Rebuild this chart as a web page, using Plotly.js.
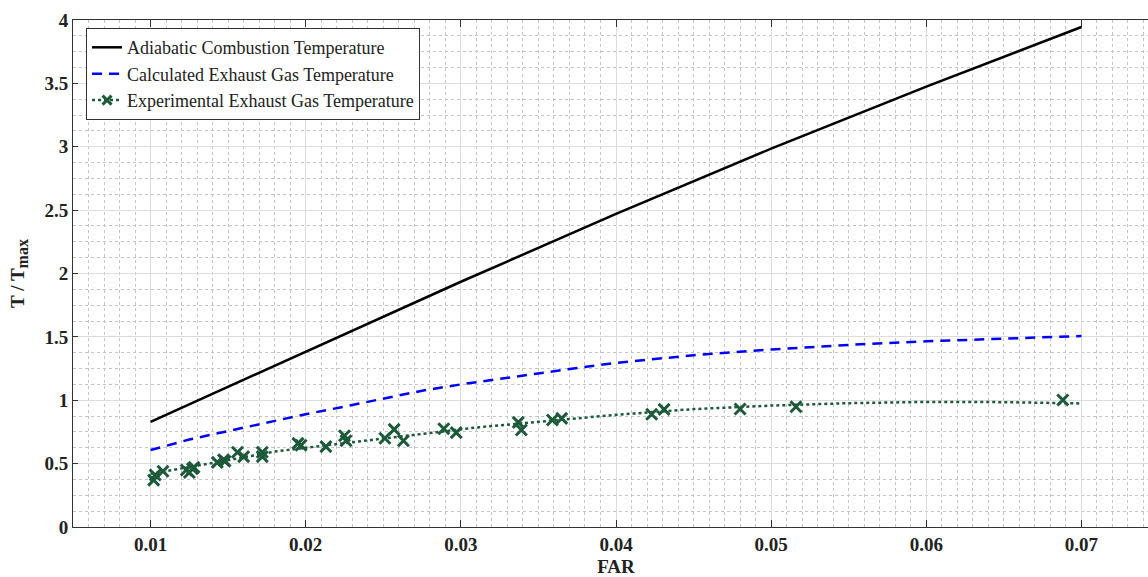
<!DOCTYPE html>
<html>
<head>
<meta charset="utf-8">
<script src="https://cdn.plot.ly/plotly-3.0.1.min.js"></script>
<style>
html,body{margin:0;padding:0;overflow:hidden;background:#fff;}
#chart{width:1160px;height:577px;}
</style>
</head>
<body>
<div id="chart"></div>
<script>
// Adiabatic combustion temperature (solid black)
const farAdiabatic = [0.010, 0.020, 0.030, 0.040, 0.050, 0.060, 0.070];
const tAdiabatic   = [0.83, 1.385, 1.935, 2.47, 2.985, 3.475, 3.945];

// Calculated exhaust gas temperature (blue dashed)
const farCalc = [0.010, 0.0125, 0.015, 0.0175, 0.020, 0.0225, 0.025, 0.0275, 0.030, 0.0325, 0.035, 0.0375, 0.040, 0.045, 0.050, 0.055, 0.060, 0.065, 0.070];
const tCalc   = [0.607, 0.69, 0.757, 0.825, 0.89, 0.95, 1.01, 1.075, 1.125, 1.17, 1.215, 1.255, 1.295, 1.355, 1.40, 1.437, 1.465, 1.488, 1.507];

// Experimental exhaust gas temperature: fitted dotted curve
const farFit = [0.010, 0.012, 0.014, 0.016, 0.018, 0.020, 0.022, 0.025, 0.028, 0.031, 0.035, 0.040, 0.045, 0.050, 0.055, 0.060, 0.065, 0.070];
const tFit   = [0.42, 0.46, 0.505, 0.55, 0.595, 0.625, 0.655, 0.70, 0.74, 0.785, 0.83, 0.885, 0.93, 0.958, 0.977, 0.987, 0.985, 0.975];

// Experimental exhaust gas temperature: measured points
const farExp = [0.0102, 0.0103, 0.0108, 0.0123, 0.0125, 0.0127, 0.0128, 0.0143, 0.0147, 0.0148, 0.0156, 0.0160, 0.0172, 0.0172, 0.0195, 0.0197, 0.0213, 0.0225, 0.0226, 0.0251, 0.0257, 0.0263, 0.0289, 0.0297, 0.0337, 0.0339, 0.0359, 0.0365, 0.0423, 0.0431, 0.0480, 0.0516, 0.0688];
const tExp   = [0.37, 0.41, 0.44, 0.45, 0.43, 0.46, 0.47, 0.51, 0.53, 0.52, 0.59, 0.555, 0.59, 0.555, 0.66, 0.645, 0.634, 0.72, 0.68, 0.70, 0.77, 0.68, 0.775, 0.745, 0.825, 0.765, 0.844, 0.857, 0.89, 0.928, 0.931, 0.949, 1.002];

const xTickVals = [0.01, 0.02, 0.03, 0.04, 0.05, 0.06, 0.07];
const xTickText = ['0.01', '0.02', '0.03', '0.04', '0.05', '0.06', '0.07'];
const yTickVals = [0, 0.5, 1, 1.5, 2, 2.5, 3, 3.5, 4];
const yTickText = ['0', '0.5', '1', '1.5', '2', '2.5', '3', '3.5', '4'];

const green = '#1d5a3a';
const serif = 'Liberation Serif';

const traces = [
  {x: farAdiabatic, y: tAdiabatic, mode: 'lines', name: 'Adiabatic Combustion Temperature',
   line: {color: '#000000', width: 2.5}},
  {x: farCalc, y: tCalc, mode: 'lines', name: 'Calculated Exhaust Gas Temperature',
   line: {color: '#0000ff', width: 2.5, dash: '10px,7px'}},
  {x: farFit, y: tFit, mode: 'lines', showlegend: false, hoverinfo: 'skip',
   line: {color: green, width: 2.5, dash: 'dot'}},
  {x: farExp, y: tExp, mode: 'markers', showlegend: false,
   marker: {symbol: 'x-thin', size: 11, color: green, line: {width: 3, color: green}}},
  {x: [null], y: [null], mode: 'lines+markers', name: 'Experimental Exhaust Gas Temperature',
   line: {color: green, width: 2.5, dash: 'dot'},
   marker: {symbol: 'x-thin', size: 9, color: green, line: {width: 3, color: green}}}
];

const layout = {
  width: 1160, height: 577,
  margin: {l: 73, r: 1, t: 20, b: 50},
  paper_bgcolor: '#ffffff', plot_bgcolor: '#ffffff',
  font: {family: serif, color: '#222'},
  showlegend: true,
  legend: {x: 0.012, y: 0.984, xanchor: 'left', yanchor: 'top',
    bgcolor: '#ffffff', bordercolor: '#333', borderwidth: 1,
    font: {family: serif, size: 18, color: '#222'}, tracegroupgap: 0},
  xaxis: {
    range: [0.005, 0.075], tickmode: 'array', tickvals: xTickVals, ticktext: xTickText,
    ticks: 'inside', ticklen: 7, tickcolor: '#333', tickwidth: 1,
    showline: true, linecolor: '#333', linewidth: 1, mirror: 'ticks',
    showgrid: true, gridcolor: '#dddddd', gridwidth: 1, zeroline: false,
    minor: {dtick: 0.001, showgrid: true, gridcolor: '#c4c4c4', griddash: 'dot', gridwidth: 1},
    tickfont: {family: serif, size: 19, weight: 'bold', color: '#222'},
    title: {text: 'FAR', font: {family: serif, size: 19, weight: 'bold', color: '#222'}, standoff: 7}
  },
  yaxis: {
    range: [0, 4], tickmode: 'array', tickvals: yTickVals, ticktext: yTickText,
    ticks: 'inside', ticklen: 5, tickcolor: '#333', tickwidth: 1,
    showline: true, linecolor: '#333', linewidth: 1, mirror: 'ticks',
    showgrid: true, gridcolor: '#dddddd', gridwidth: 1, zeroline: false,
    minor: {dtick: 0.125, showgrid: true, gridcolor: '#c4c4c4', griddash: 'dot', gridwidth: 1},
    tickfont: {family: serif, size: 19, weight: 'bold', color: '#222'},
    title: {text: 'T / T<sub><span style="font-size:16px">max</span></sub>', font: {family: serif, size: 19, weight: 'bold', color: '#222'}, standoff: 14}
  }
};

Plotly.newPlot('chart', traces, layout, {displayModeBar: false, staticPlot: true});
</script>
</body>
</html>
